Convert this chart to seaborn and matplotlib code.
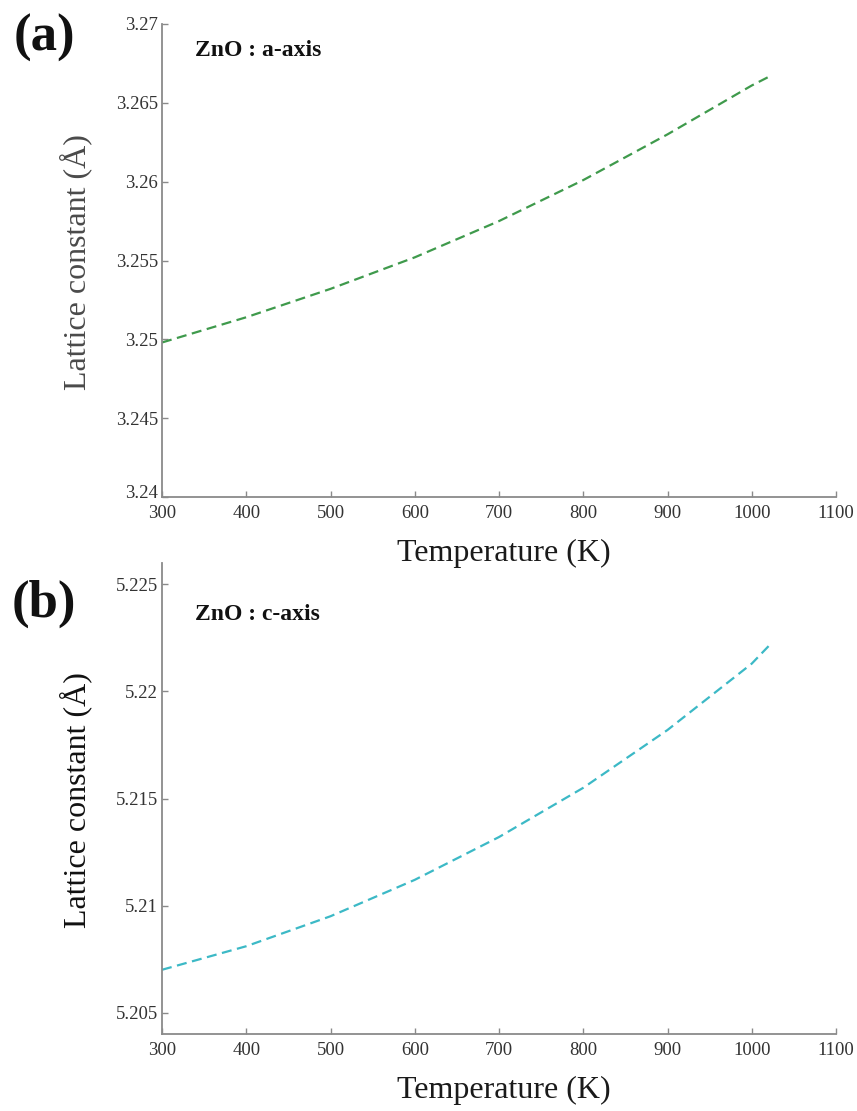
import numpy as np
import pandas as pd
import matplotlib
matplotlib.use("Agg")
import matplotlib.pyplot as plt
import matplotlib.transforms as mtransforms
import seaborn as sns

# ---- data ----
temperature = [300, 400, 500, 600, 700, 800, 900, 1000, 1022]
a_axis = [3.2498, 3.2514, 3.2532, 3.2552, 3.2575, 3.2601, 3.2630, 3.2661, 3.2667]
c_axis = [5.2070, 5.2081, 5.2095, 5.2112, 5.2132, 5.2155, 5.2182, 5.2213, 5.2222]

x_ticks = [300, 400, 500, 600, 700, 800, 900, 1000, 1100]
a_ticks = [3.24, 3.245, 3.25, 3.255, 3.26, 3.265, 3.27]
a_tick_labels = ["3.24", "3.245", "3.25", "3.255", "3.26", "3.265", "3.27"]
c_ticks = [5.205, 5.21, 5.215, 5.22, 5.225]
c_tick_labels = ["5.205", "5.21", "5.215", "5.22", "5.225"]

panel_labels = ["(a)", "(b)"]
titles = ["ZnO : a-axis", "ZnO : c-axis"]
xlabel = "Temperature (K)"
ylabel = "Lattice constant (Å)"

sns.set_style("white")
plt.rcParams["font.family"] = ["Liberation Serif", "DejaVu Serif"]

W, H = 857, 1111
fig = plt.figure(figsize=(W / 100, H / 100), dpi=100)


def fx(px):
    return px / W


def fy(py):
    return 1 - py / H


df = pd.DataFrame({"T": temperature, "a": a_axis, "c": c_axis})

specs = [
    dict(top=24, bottom=497, col="a", color="#3f9a4c", ylim=(3.24, 3.27),
         ticks=a_ticks, labels=a_tick_labels, ylab_color="#4a4a4a",
         ylab_y=262, panel_y=38, title_y=50),
    dict(top=563, bottom=1034, col="c", color="#3cb9c6", ylim=(5.204, 5.226),
         ticks=c_ticks, labels=c_tick_labels, ylab_color="#111111",
         ylab_y=800, panel_y=604, title_y=614),
]

left_px, right_px = 162, 836
for i, s in enumerate(specs):
    ax = fig.add_axes([fx(left_px), fy(s["bottom"]), fx(right_px - left_px),
                       (s["bottom"] - s["top"]) / H])
    sns.lineplot(data=df, x="T", y=s["col"], ax=ax, color=s["color"],
                 linewidth=1.6, linestyle=(0, (4.5, 2.5)))
    ax.set_xlim(300, 1100)
    ax.set_ylim(*s["ylim"])
    ax.set_xticks(x_ticks)
    ax.set_xticklabels([str(t) for t in x_ticks])
    ax.set_yticks(s["ticks"])
    ax.set_yticklabels(s["labels"])
    ax.set_xlabel("")
    ax.set_ylabel("")
    for side in ["top", "right"]:
        ax.spines[side].set_visible(False)
    for side in ["left", "bottom"]:
        ax.spines[side].set_color("#8a8a8a")
        ax.spines[side].set_linewidth(1.3)
    ax.tick_params(direction="in", length=4, width=1, color="#8a8a8a",
                   labelsize=13.5, labelcolor="#333333",
                   left=True, bottom=True)
    ax.tick_params(axis="y", pad=3)
    ax.tick_params(axis="x", pad=6)
    ax.set_facecolor("white")

    if i == 0:
        # lowest y tick label sits slightly raised, as in the reference
        lab = ax.get_yticklabels()[0]
        lab.set_transform(lab.get_transform() +
                          mtransforms.ScaledTranslation(0, 6 / 100,
                                                        fig.dpi_scale_trans))

    # axis labels
    fig.text(fx(504), fy(s["bottom"] + 56), xlabel, fontsize=23,
             color="#1a1a1a", ha="center", va="center")
    fig.text(fx(76), fy(s["ylab_y"]), ylabel, fontsize=23, rotation=90,
             color=s["ylab_color"], ha="center", va="center")
    # panel label and title
    fig.text(fx(44), fy(s["panel_y"]), panel_labels[i],
             fontsize=38, fontweight="bold", ha="center", va="center",
             color="#111111")
    fig.text(fx(195), fy(s["title_y"]), titles[i],
             fontsize=17, fontweight="bold", ha="left", va="center",
             color="#111111")

fig.savefig("out.png", dpi=100, facecolor="white")
